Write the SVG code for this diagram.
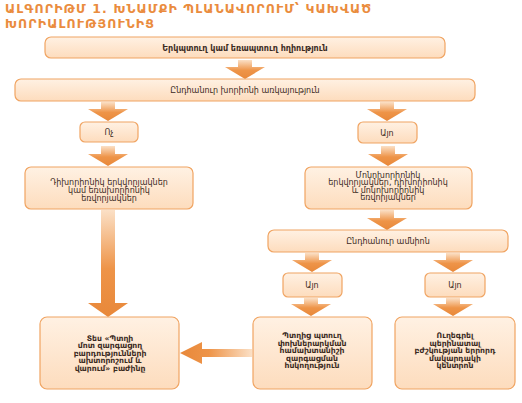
<svg xmlns="http://www.w3.org/2000/svg" width="522" height="403" viewBox="0 0 522 403">
<defs>
<linearGradient id="boxfill" x1="0" y1="0" x2="0" y2="1">
<stop offset="0" stop-color="#fff1e3"/>
<stop offset="1" stop-color="#fddcbd"/>
</linearGradient>
<linearGradient id="vgrad" x1="0" y1="0" x2="0" y2="1">
<stop offset="0" stop-color="#fbe0c6"/>
<stop offset="0.55" stop-color="#ee9448"/>
<stop offset="1" stop-color="#e8883a"/>
</linearGradient>
<linearGradient id="hgrad" x1="1" y1="0" x2="0" y2="0">
<stop offset="0" stop-color="#fbe0c6"/>
<stop offset="0.6" stop-color="#ee9448"/>
<stop offset="1" stop-color="#e8883a"/>
</linearGradient>
</defs>
<style>
.box{fill:url(#boxfill);stroke:#f0a462;stroke-width:1.2}
.arr{fill:url(#vgrad)}
.harr{fill:url(#hgrad)}
.t{font-family:"DejaVu Sans",sans-serif;font-size:8px;fill:#3a2a1e;text-anchor:middle}
.b{font-weight:bold;font-size:7.7px}
.title{font-family:"DejaVu Sans",sans-serif;font-size:12.5px;font-weight:bold;fill:#ea8c3e;letter-spacing:1.1px}
</style>
<g id="title">
<text class="title" x="5" y="13">ԱԼԳՈՐԻԹՄ 1. ԽՆԱՄՔԻ ՊԼԱՆԱՎՈՐՈՒՄ՝ ԿԱԽՎԱԾ</text>
<text class="title" x="5" y="27.5">ԽՈՐԻԱԼՈՒԹՅՈՒՆԻՑ</text>
</g>
<g id="connectors">
<path class="arr" d="M238 60H252V67H265L245 79L225 67H238Z"/>
<path class="arr" d="M101 102H115V109H128L108 121L88 109H101Z"/>
<path class="arr" d="M380 102H394V109H407L387 121L367 109H380Z"/>
<path class="arr" d="M101 146H115V154H128L108 166L88 154H101Z"/>
<path class="arr" d="M381 146H395V154H408L388 166L368 154H381Z"/>
<path class="arr" d="M101 210H115V303H128L108 317L88 303H101Z"/>
<path class="arr" d="M380 210H394V218H407L387 230L367 218H380Z"/>
<path class="arr" d="M305 253H319V260H332L312 272L292 260H305Z"/>
<path class="arr" d="M446 253H460V260H473L453 272L433 260H446Z"/>
<path class="arr" d="M304 298H318V304H331L311 316L291 304H304Z"/>
<path class="arr" d="M446 298H460V304H473L453 316L433 304H446Z"/>
<path class="harr" d="M252 349V357H202V364L180 353L202 342V349Z"/>
</g>
<g id="n1">
<rect class="box" x="45" y="37" width="400" height="21" rx="6"/>
<text class="t" x="245" y="50.5" font-size="8.5" font-weight="bold">Երկպտուղ կամ եռապտուղ հղիություն</text>
</g>
<g id="n2">
<rect class="box" x="15" y="79" width="460" height="22" rx="6"/>
<text class="t" x="245" y="93" font-size="8.5">Ընդհանուր խորիոնի առկայություն</text>
</g>
<g id="n3">
<rect class="box" x="80" y="122" width="58" height="20" rx="5"/>
<text class="t" x="109" y="135">Ոչ</text>
</g>
<g id="n4">
<rect class="box" x="358" y="122" width="59" height="21" rx="5"/>
<text class="t" x="387" y="135.5">Այո</text>
</g>
<g id="n5">
<rect class="box" x="25" y="167" width="168" height="42" rx="6"/>
<text class="t" x="109" y="184.5">Դիխորիոնիկ երկվորյակներ</text>
<text class="t" x="109" y="192.5">կամ եռախորիոնիկ</text>
<text class="t" x="109" y="200.5">եռվորյակներ</text>
</g>
<g id="n6">
<rect class="box" x="305" y="167" width="167" height="42" rx="6"/>
<text class="t" x="388" y="177.5">Մոնոխորիոնիկ</text>
<text class="t" x="388" y="185">երկվորյակներ, դիխորիոնիկ</text>
<text class="t" x="388" y="192.5">և մոնոխորիոնիկ</text>
<text class="t" x="388" y="200">եռվորյակներ</text>
</g>
<g id="n7">
<rect class="box" x="268" y="230" width="240" height="22" rx="6"/>
<text class="t" x="388" y="244">Ընդհանուր ամնիոն</text>
</g>
<g id="n8">
<rect class="box" x="283" y="273" width="59" height="24" rx="5"/>
<text class="t" x="312" y="288">Այո</text>
</g>
<g id="n9">
<rect class="box" x="425" y="273" width="60" height="24" rx="5"/>
<text class="t" x="455" y="288">Այո</text>
</g>
<g id="n10">
<rect class="box" x="40" y="317" width="139" height="72" rx="7"/>
<text class="t b" x="110" y="340.5">Տես «Պտղի</text>
<text class="t b" x="110" y="348">մոտ զարգացող</text>
<text class="t b" x="110" y="355.5">բարդությունների</text>
<text class="t b" x="110" y="363">ախտորոշում և</text>
<text class="t b" x="110" y="370.5">վարում» բաժինը</text>
</g>
<g id="n11">
<rect class="box" x="253" y="317" width="119" height="72" rx="7"/>
<text class="t b" x="312" y="338">Պտղից պտուղ</text>
<text class="t b" x="312" y="345.5">փոխներարկման</text>
<text class="t b" x="312" y="353">համախտանիշի</text>
<text class="t b" x="312" y="360.5">զարգացման</text>
<text class="t b" x="312" y="368">հսկողություն</text>
</g>
<g id="n12">
<rect class="box" x="395" y="317" width="120" height="72" rx="7"/>
<text class="t b" x="455" y="338">Ուղեգրել</text>
<text class="t b" x="455" y="345.5">պերինատալ</text>
<text class="t b" x="455" y="353">բժշկության երրորդ</text>
<text class="t b" x="455" y="360.5">մակարդակի</text>
<text class="t b" x="455" y="368">կենտրոն</text>
</g>
</svg>
